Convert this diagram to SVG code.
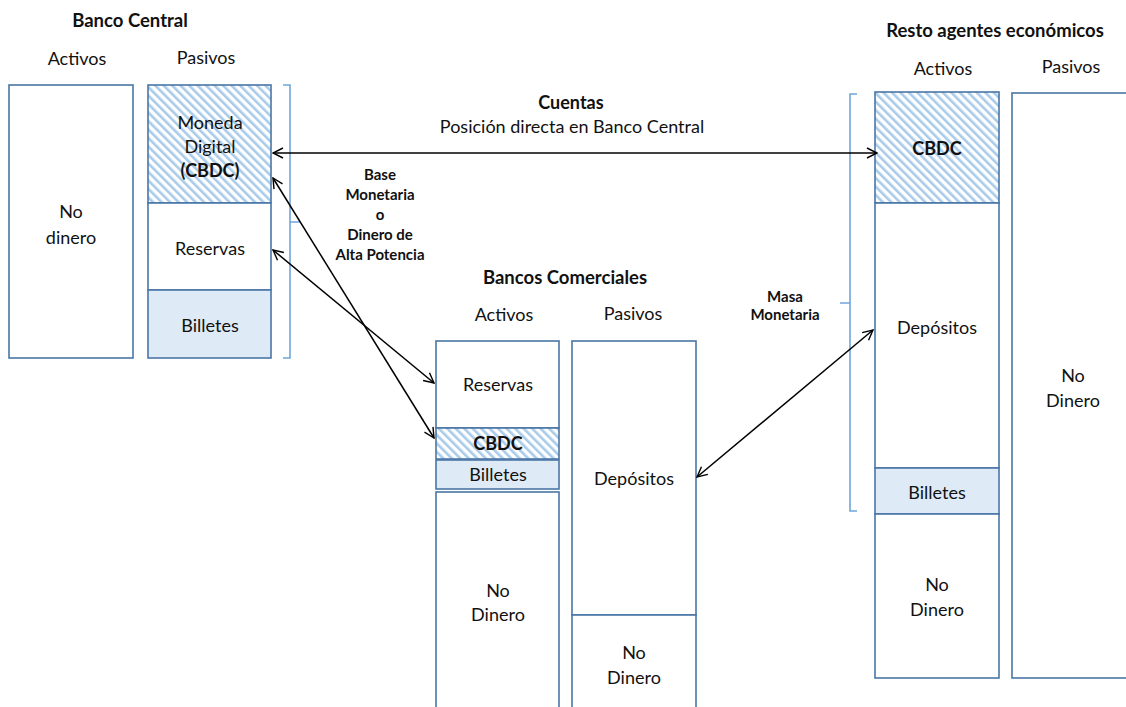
<svg xmlns="http://www.w3.org/2000/svg" width="1126" height="707" viewBox="0 0 1126 707">
  <defs>
    <pattern id="hatch" patternUnits="userSpaceOnUse" width="6" height="6" patternTransform="rotate(-45)">
      <rect width="6" height="6" fill="#ffffff"/>
      <rect width="2.6" height="6" fill="#a9cbea"/>
    </pattern>
    <marker id="arrow" viewBox="0 0 12 12" refX="11" refY="6" markerWidth="12" markerHeight="12" markerUnits="userSpaceOnUse" orient="auto-start-reverse">
      <path d="M1,1 L11,6 L1,11" fill="none" stroke="#000" stroke-width="1.4"/>
    </marker>
  </defs>
  <style>
    .box { fill: #ffffff; stroke: #4a76a6; stroke-width: 1.6; }
    .hat { fill: url(#hatch); stroke: #4a76a6; stroke-width: 1.6; }
    .cash { fill: #deebf7; stroke: #4a76a6; stroke-width: 1.6; }
    .brace { fill: none; stroke: #6fa6da; stroke-width: 1.6; }
    .t { font-family: Lato, "Liberation Sans", sans-serif; font-size: 18px; fill: #111; text-anchor: middle; dominant-baseline: central; }
    .b { font-weight: bold; }
    .h { font-size: 18.5px; }
    .s { font-size: 15px; }
    .link { fill: none; stroke: #000; stroke-width: 1.5; marker-start: url(#arrow); marker-end: url(#arrow); }
  </style>
  <rect width="1126" height="707" fill="#ffffff"/>

  <!-- Banco Central -->
  <g id="banco-central">
    <text class="t b h" x="130" y="20">Banco Central</text>
    <text class="t" x="77" y="58">Activos</text>
    <text class="t" x="206" y="57">Pasivos</text>
    <rect class="box" x="9" y="85" width="124" height="273"/>
    <text class="t" x="71" y="211">No</text>
    <text class="t" x="71" y="237">dinero</text>
    <rect class="hat" x="148" y="85" width="123" height="118"/>
    <text class="t" x="210" y="122">Moneda</text>
    <text class="t" x="210" y="146">Digital</text>
    <text class="t b" x="210" y="170">(CBDC)</text>
    <rect class="box" x="148" y="203" width="123" height="87"/>
    <text class="t" x="210" y="248">Reservas</text>
    <rect class="cash" x="148" y="290" width="123" height="68"/>
    <text class="t" x="210" y="325">Billetes</text>
    <path class="brace" d="M283,85 H290 V358 H283 M290,222 H301"/>
  </g>

  <!-- Bancos Comerciales -->
  <g id="bancos-comerciales">
    <text class="t b h" x="565" y="277">Bancos Comerciales</text>
    <text class="t" x="504" y="314">Activos</text>
    <text class="t" x="633" y="313">Pasivos</text>
    <rect class="box" x="436" y="341" width="123" height="87"/>
    <text class="t" x="498" y="384">Reservas</text>
    <rect class="hat" x="436" y="428" width="123" height="31"/>
    <text class="t b" x="498" y="443">CBDC</text>
    <rect class="cash" x="436" y="460" width="123" height="29"/>
    <text class="t" x="498" y="474">Billetes</text>
    <rect class="box" x="436" y="492" width="123" height="220"/>
    <text class="t" x="498" y="590">No</text>
    <text class="t" x="498" y="614">Dinero</text>
    <rect class="box" x="572" y="341" width="124" height="274"/>
    <text class="t" x="634" y="478">Depósitos</text>
    <rect class="box" x="572" y="615" width="124" height="97"/>
    <text class="t" x="634" y="652">No</text>
    <text class="t" x="634" y="677">Dinero</text>
  </g>

  <!-- Resto agentes económicos -->
  <g id="resto-agentes">
    <text class="t b h" x="995" y="30">Resto agentes económicos</text>
    <text class="t" x="943" y="68">Activos</text>
    <text class="t" x="1071" y="66">Pasivos</text>
    <rect class="hat" x="875" y="92" width="124" height="111"/>
    <text class="t b" x="937" y="148">CBDC</text>
    <rect class="box" x="875" y="203" width="124" height="265"/>
    <text class="t" x="937" y="327">Depósitos</text>
    <rect class="cash" x="875" y="468" width="124" height="46"/>
    <text class="t" x="937" y="492">Billetes</text>
    <rect class="box" x="875" y="514" width="124" height="164"/>
    <text class="t" x="937" y="584">No</text>
    <text class="t" x="937" y="609">Dinero</text>
    <rect class="box" x="1012" y="93" width="120" height="585"/>
    <text class="t" x="1073" y="375">No</text>
    <text class="t" x="1073" y="400">Dinero</text>
    <path class="brace" d="M857,94 H850 V511 H857 M850,303 H840"/>
  </g>

  <!-- Annotations -->
  <g id="labels">
    <text class="t b" x="571" y="102">Cuentas</text>
    <text class="t" x="572" y="126">Posición directa en Banco Central</text>
    <text class="t b s" x="380" y="174">Base</text>
    <text class="t b s" x="380" y="194">Monetaria</text>
    <text class="t b s" x="380" y="214">o</text>
    <text class="t b s" x="380" y="234">Dinero de</text>
    <text class="t b s" x="380" y="254">Alta Potencia</text>
    <text class="t b s" x="785" y="296">Masa</text>
    <text class="t b s" x="785" y="314">Monetaria</text>
  </g>

  <!-- Connectors -->
  <g id="connectors">
    <line class="link" x1="273" y1="153" x2="877" y2="153"/>
    <line class="link" x1="273" y1="178" x2="434" y2="438"/>
    <line class="link" x1="273" y1="250" x2="434" y2="383"/>
    <line class="link" x1="697" y1="477" x2="873" y2="330"/>
  </g>
</svg>
